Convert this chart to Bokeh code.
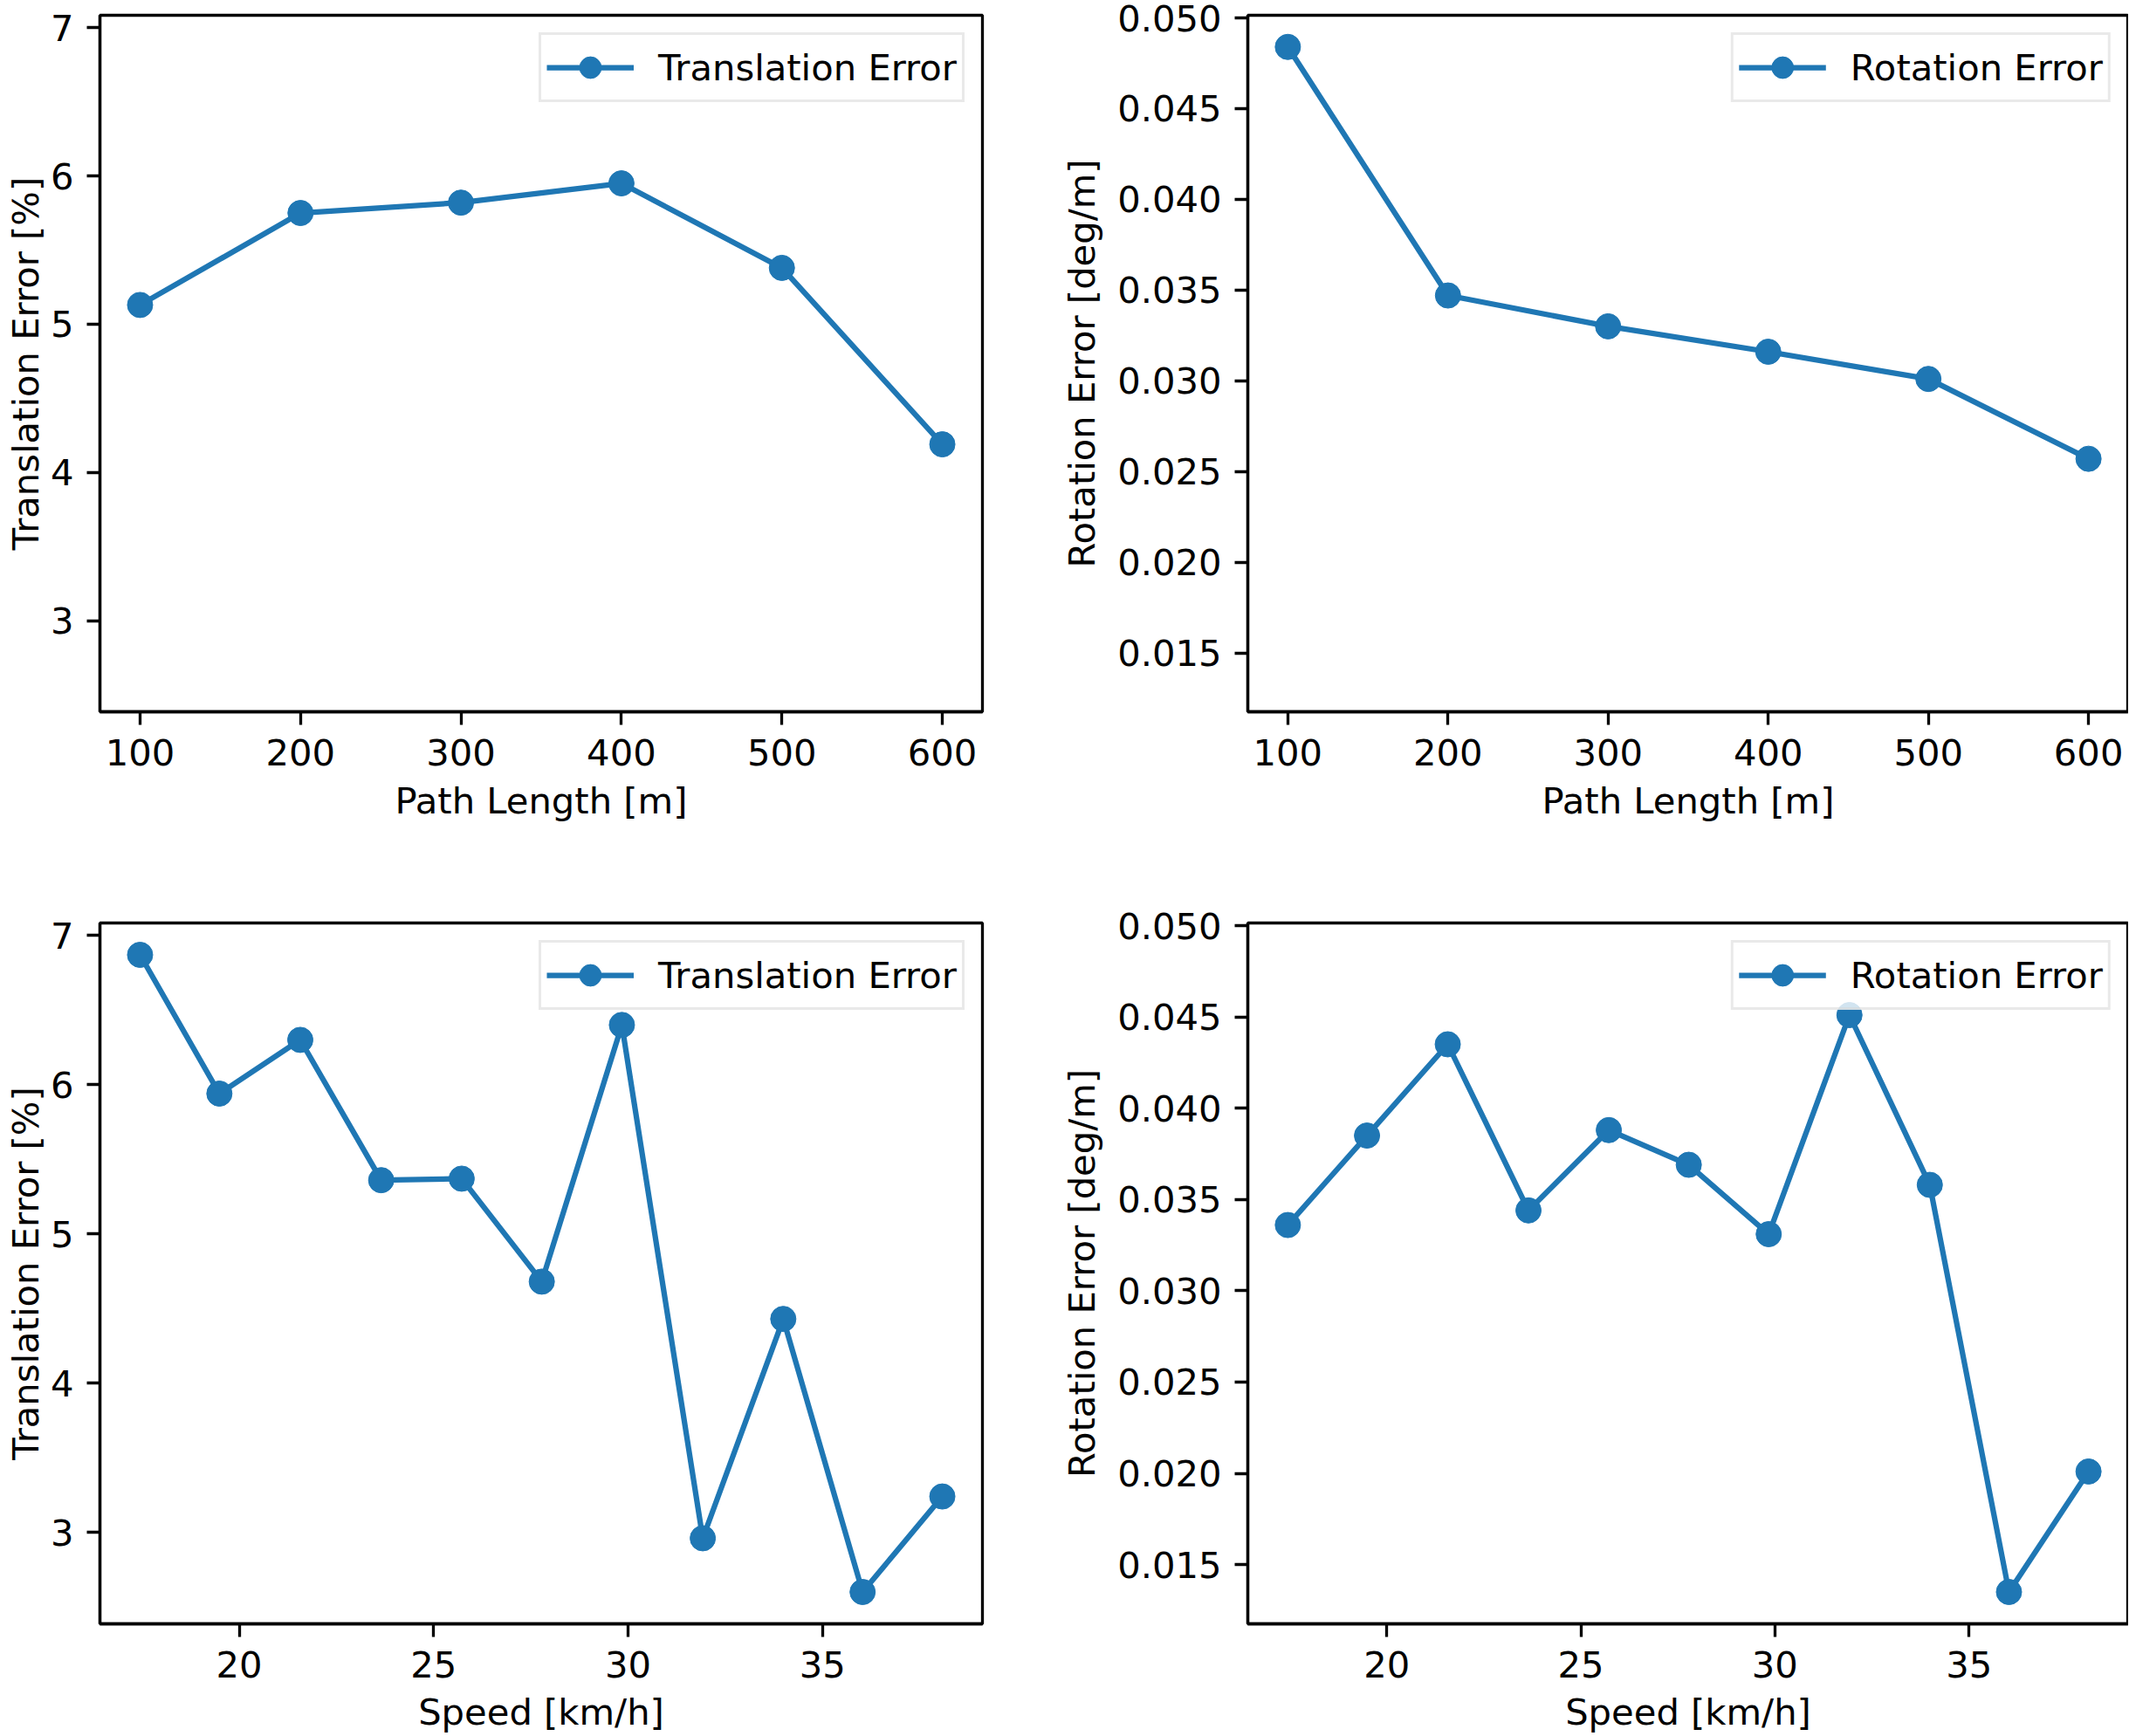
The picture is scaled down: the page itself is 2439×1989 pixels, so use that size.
from bokeh.plotting import figure
from bokeh.layouts import gridplot
from bokeh.models import FixedTicker, PrintfTickFormatter, Range1d
from bokeh.embed import file_html
from bokeh.resources import INLINE

# ---------------- data ----------------
path_length = [100, 200, 300, 400, 500, 600]
trans_err_path = [5.13, 5.75, 5.82, 5.95, 5.38, 4.19]
rot_err_path = [0.0484, 0.0347, 0.0330, 0.0316, 0.0301, 0.0257]

speed = [17.45, 19.49, 21.57, 23.65, 25.72, 27.78, 29.84, 31.92, 33.99, 36.03, 38.08]
trans_err_speed = [6.87, 5.94, 6.30, 5.36, 5.37, 4.68, 6.40, 2.96, 4.43, 2.60, 3.24]
rot_err_speed = [0.0336, 0.0385, 0.0435, 0.0344, 0.0388, 0.0369, 0.0331, 0.0451, 0.0358, 0.0135, 0.0201]

path_ticks = [100, 200, 300, 400, 500, 600]
speed_ticks = [20, 25, 30, 35]
trans_ticks = [3, 4, 5, 6, 7]
rot_ticks = [0.015, 0.020, 0.025, 0.030, 0.035, 0.040, 0.045, 0.050]

COLOR = "#1f77b4"
FONT = "DejaVu Sans"
FS = "41.7px"
LW = 3.3


def auto_range(*arrs):
    lo = min(min(a) for a in arrs)
    hi = max(max(a) for a in arrs)
    m = (hi - lo) * 0.05
    return lo - m, hi + m


trans_range = auto_range(trans_err_path, trans_err_speed)
rot_range = auto_range(rot_err_path, rot_err_speed)
path_range = auto_range(path_length)
speed_range = auto_range(speed)


def make_fig(x, y, xr, yr, xticks, yticks, yfmt, xlabel, ylabel, label,
             width, height, mbl, mbr, mbt, mbb, x_lab_standoff, x_axis_standoff,
             y_axis_standoff):
    p = figure(width=width, height=height, output_backend="svg",
               toolbar_location=None, tools="",
               x_range=Range1d(*xr), y_range=Range1d(*yr),
               min_border_left=mbl, min_border_right=mbr,
               min_border_top=mbt, min_border_bottom=mbb)
    p.line(x, y, line_color=COLOR, line_width=6.25, line_join="round",
           legend_label=label)
    p.scatter(x, y, size=29, fill_color=COLOR, line_color=COLOR,
              legend_label=label)

    p.xgrid.visible = False
    p.ygrid.visible = False
    p.outline_line_color = "black"
    p.outline_line_width = LW
    p.outline_line_alpha = 1.0
    p.background_fill_color = "white"
    p.border_fill_color = "white"

    p.xaxis.ticker = FixedTicker(ticks=xticks)
    p.yaxis.ticker = FixedTicker(ticks=yticks)
    p.yaxis.formatter = PrintfTickFormatter(format=yfmt)
    p.xaxis.formatter = PrintfTickFormatter(format="%d")
    p.xaxis.axis_label = xlabel
    p.yaxis.axis_label = ylabel

    for ax in (p.xaxis[0], p.yaxis[0]):
        ax.axis_line_color = "black"
        ax.axis_line_width = LW
        ax.major_tick_line_color = "black"
        ax.major_tick_line_width = LW
        ax.major_tick_out = 15
        ax.major_tick_in = 0
        ax.minor_tick_out = 0
        ax.minor_tick_in = 0
        ax.major_label_text_font = FONT
        ax.major_label_text_font_size = FS
        ax.major_label_text_color = "black"
        ax.axis_label_text_font = FONT
        ax.axis_label_text_font_size = FS
        ax.axis_label_text_font_style = "normal"
        ax.axis_label_text_color = "black"
    p.xaxis.major_label_standoff = x_lab_standoff
    p.xaxis.axis_label_standoff = x_axis_standoff
    p.yaxis.major_label_standoff = 15
    p.yaxis.axis_label_standoff = y_axis_standoff

    lg = p.legend[0]
    lg.location = "top_right"
    lg.margin = 20
    lg.padding = 6
    lg.glyph_width = 100
    lg.glyph_height = 62
    lg.label_standoff = 28
    lg.label_text_font = FONT
    lg.label_text_font_size = FS
    lg.label_text_color = "black"
    lg.border_line_color = "#d4d4d4"
    lg.border_line_width = 3
    lg.background_fill_color = "white"
    lg.background_fill_alpha = 0.8
    return p


W1, W2 = 1185, 1253
H1, H2 = 985, 1003

p1 = make_fig(path_length, trans_err_path, path_range, trans_range, path_ticks,
              trans_ticks, "%d", "Path Length [m]", "Translation Error [%]",
              "Translation Error", W1, H1, 114, 60, 17, 170, 16, 13, 1)
p2 = make_fig(path_length, rot_err_path, path_range, rot_range, path_ticks,
              rot_ticks, "%.3f", "Path Length [m]", "Rotation Error [deg/m]",
              "Rotation Error", W2, H1, 244, 0, 17, 170, 16, 13, 13)
p3 = make_fig(speed, trans_err_speed, speed_range, trans_range, speed_ticks,
              trans_ticks, "%d", "Speed [km/h]", "Translation Error [%]",
              "Translation Error", W1, H2, 114, 60, 72, 128, 16, 12, 1)
p4 = make_fig(speed, rot_err_speed, speed_range, rot_range, speed_ticks,
              rot_ticks, "%.3f", "Speed [km/h]", "Rotation Error [deg/m]",
              "Rotation Error", W2, H2, 244, 0, 72, 128, 16, 12, 13)

grid = gridplot([[p1, p2], [p3, p4]], toolbar_location=None)

open("out.html", "w").write(file_html(grid, INLINE))
